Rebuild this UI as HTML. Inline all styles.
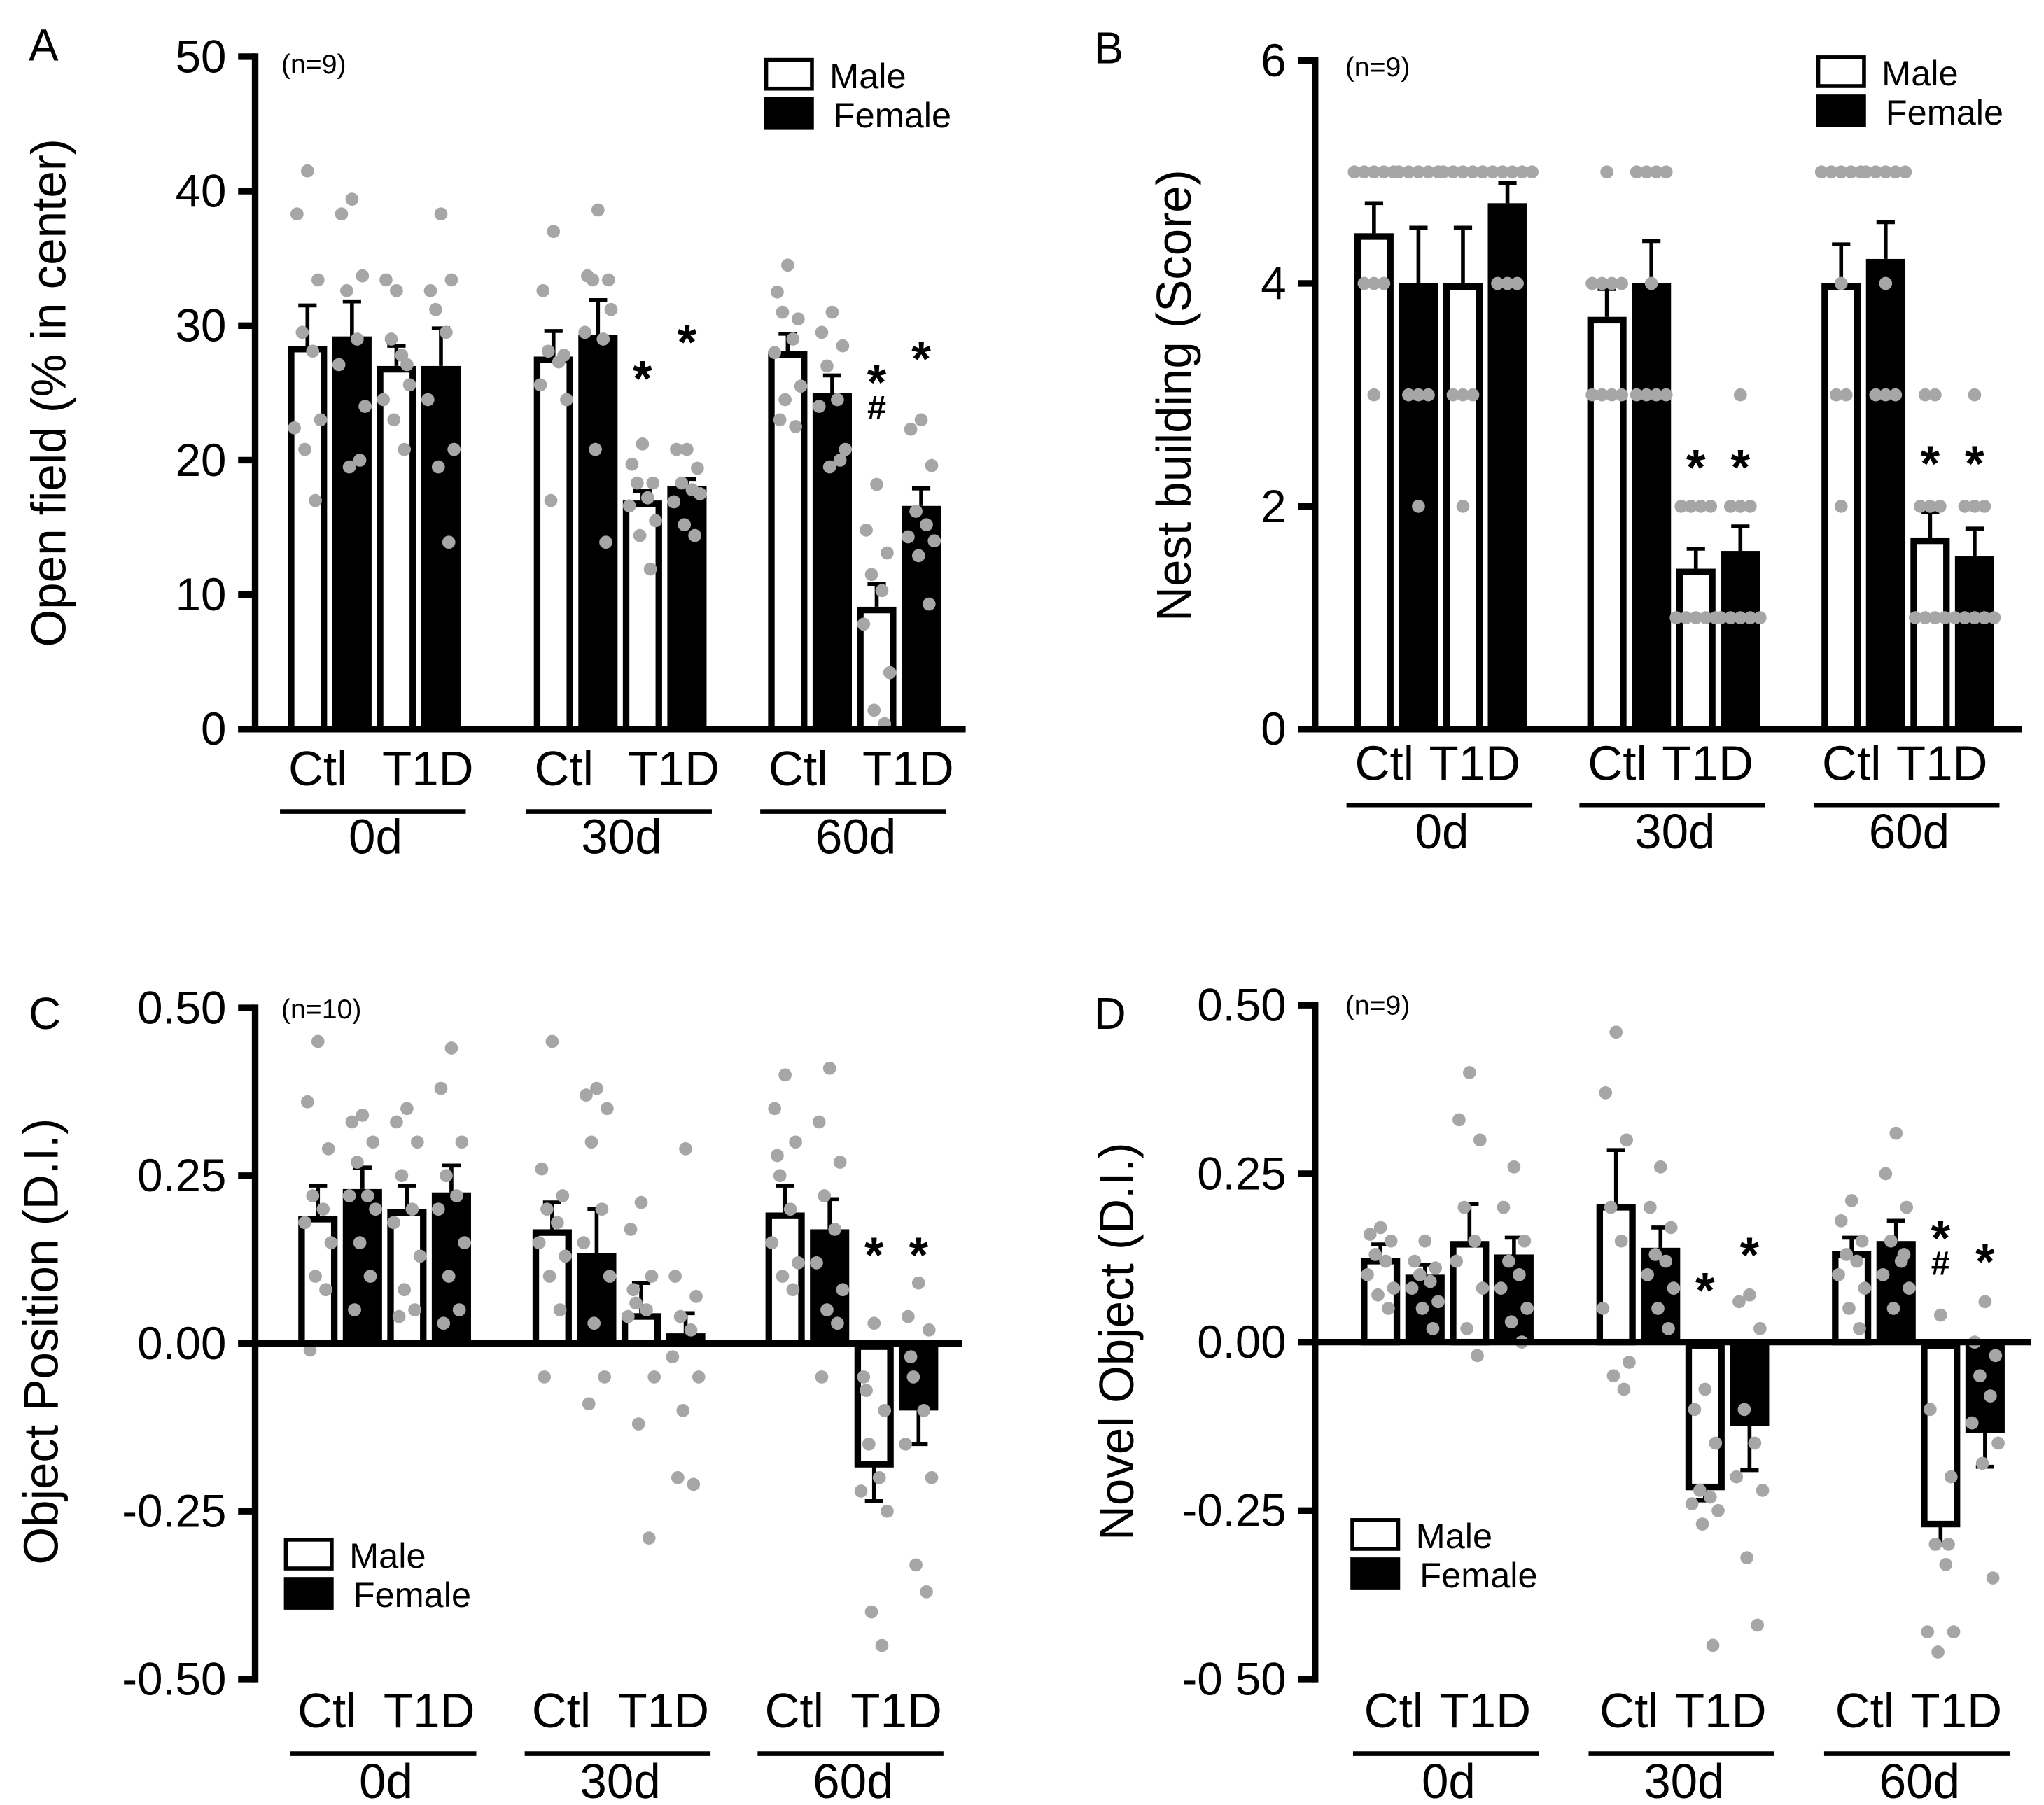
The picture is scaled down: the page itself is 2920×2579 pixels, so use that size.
<!DOCTYPE html>
<html><head><meta charset="utf-8"><style>
html,body{margin:0;padding:0;background:#fff}
svg{display:block}
text{font-family:"Liberation Sans",Arial,sans-serif;fill:#000}
</style></head><body>
<svg id="chart" xmlns="http://www.w3.org/2000/svg" width="2920" height="2579" viewBox="0 0 1562 1379"></svg>
<script>
// ---- data ----
const groupLabels = ["0d","30d","60d"];
const barLabels = ["Ctl","T1D"];
const sexLabels = ["Male","Female"];
// Panel A: Open field
const valsA = [28.5,29.2,27,27, 27.7,29.3,17,18.1, 28.1,25,9.1,16.6];
const errA  = [31.5,31.8,28.5,29.8, 29.6,31.9,17.7,18.6, 29.4,26.3,10.8,17.9];
const dotsA = [
 [41.5,38.3,33.4,29.5,28.1,22.4,23,20.8,17],
 [39.4,38.3,33.7,32.6,29,27.1,24,19.5,20],
 [32.6,33.4,27.1,29,27.8,24.5,25.6,23,20.8],
 [38.3,32.6,33.4,31.2,29.5,24.5,20.8,19.5,13.9],
 [37,32.6,27.8,28.1,27.3,25.6,24.5,17],
 [38.6,33.7,33.4,33.4,29,29.5,31.2,20.8,13.9],
 [21.2,19.7,18.3,18.3,17.2,16.6,15.5,14.4,11.9],
 [20.8,20.8,19.4,18.3,17.8,16.9,17.5,15.2,14.4],
 [34.5,32.5,30.5,31,29,28,25.5,24.5,22.5,23],
 [31,29.5,28.5,27,24.5,24,20.8,19.5,20],
 [18.2,14.8,13.1,11.5,10.3,7.8,4.2,1.4,0.4],
 [23,22.3,19.6,16.2,15.2,14.3,14,12.9,9.3]];
const ticksA = [0,10,20,30,40,50];
const tickLabelsA = ["0","10","20","30","40","50"];
// Panel B: Nest building
const valsB = [4.45,4.0,4.0,4.72, 3.7,4.0,1.44,1.6, 4.0,4.22,1.72,1.55];
const errB  = [4.72,4.5,4.5,4.9, 3.95,4.38,1.62,1.82, 4.35,4.55,1.95,1.8];
const dotsB = [
 [5,5,5,5,5,4,4,4,3],[5,5,5,5,5,3,3,3,2],[5,5,5,5,5,3,3,3,2],[5,5,5,5,5,5,4,4,4],
 [5,4,4,4,4,3,3,3,3],[5,5,5,5,4,3,3,3,3],[2,2,2,2,1,1,1,1,1],[3,2,2,2,1,1,1,1,1],
 [5,5,5,5,5,4,3,3,2],[5,5,5,5,5,4,3,3,3],[3,3,2,2,2,1,1,1,1],[3,2,2,2,1,1,1,1,1]];
const ticksB = [0,2,4,6];
const tickLabelsB = ["0","2","4","6"];
// Panel C: Object position
const valsC = [0.19,0.23,0.20,0.225, 0.17,0.135,0.045,0.015, 0.195,0.17,-0.18,-0.1];
const errC  = [0.235,0.262,0.235,0.265, 0.21,0.2,0.09,0.045, 0.235,0.215,-0.235,-0.15];
const dotsC = [
 [.45,.36,.29,.22,.2,.18,.15,.1,.08,-.01],
 [.34,.33,.3,.27,.22,.22,.2,.15,.1,.05],
 [.35,.33,.3,.25,.2,.18,.13,.08,.05,.04],
 [.44,.38,.3,.25,.22,.2,.15,.1,.05,.03],
 [.45,.26,.22,.2,.18,.15,.13,.1,.05,-.05],
 [.38,.37,.35,.3,.2,.15,.1,.03,-.05,-.09],
 [.21,.17,.1,.06,.05,.04,-.05,-.12,-.29,.08],
 [.29,.1,.07,.04,.02,-.02,-.05,-.1,-.21,-.2],
 [.4,.35,.3,.25,.2,.15,.12,.1,.08,.28],
 [.41,.33,.27,.22,.17,.12,.08,.05,.03,-.05],
 [.03,-.05,-.1,-.15,-.2,-.22,-.25,-.4,-.45,-.07],
 [.09,.04,.02,-.05,-.1,-.15,-.2,-.33,-.37,-.02]];
const ticksC = [-0.5,-0.25,0,0.25,0.5];
const tickLabelsC = ["-0.50","-0.25","0.00","0.25","0.50"];
// Panel D: Novel object
const valsD = [0.125,0.1,0.15,0.13, 0.205,0.14,-0.215,-0.125, 0.135,0.15,-0.27,-0.135];
const errD  = [0.145,0.115,0.205,0.155, 0.285,0.17,-0.235,-0.19, 0.155,0.18,-0.3,-0.185];
const dotsD = [
 [.17,.16,.15,.13,.12,.1,.08,.07,.05],
 [.15,.12,.11,.1,.09,.08,.06,.05,.02],
 [.4,.33,.3,.2,.15,.12,.08,.02,-.02],
 [.26,.2,.15,.12,.1,.08,.05,.03,0],
 [.46,.37,.3,.2,.15,.05,-.03,-.05,-.07],
 [.26,.2,.17,.13,.12,.1,.08,.05,.02],
 [-.07,-.1,-.15,-.22,-.23,-.24,-.25,-.27,-.45],
 [.07,.06,.02,-.1,-.15,-.2,-.22,-.32,-.42],
 [.21,.18,.15,.13,.12,.1,.08,.05,.02],
 [.31,.25,.2,.15,.12,.1,.08,.05,.13],
 [.04,-.1,-.2,-.3,-.33,-.43,-.43,-.46,-.3],
 [.06,0,-.02,-.05,-.08,-.12,-.15,-.18,-.35]];
const ticksD = [-0.5,-0.25,0,0.25,0.5];
const tickLabelsD = ["-0 50","-0.25","0.00","0.25","0.50"];

const NS = "http://www.w3.org/2000/svg";
const svg = document.getElementById('chart');
function mk(tag, attrs, parent){
  const e = document.createElementNS(NS, tag);
  for (const k in attrs) e.setAttribute(k, attrs[k]);
  (parent||svg).appendChild(e); return e;
}
function txt(s, x, y, size, anchor, parent){
  const t = mk('text', {x:x, y:y, 'font-size':size, 'text-anchor':anchor||'start'}, parent);
  t.textContent = s; return t;
}

function panel(cfg){
  const g = mk('g', {});
  
  
  const y = v => cfg.y0 + (v - cfg.vmin) * (cfg.y1 - cfg.y0) / (cfg.vmax - cfg.vmin);
  const base = y(cfg.base);
  const pl = txt(cfg.letter, cfg.letterX, cfg.letterY, 34, 'start', g);
  
  
  const yt = txt(cfg.title, 0, 0, 37, 'middle', g);
  yt.setAttribute('transform', `translate(${cfg.titleX},${cfg.titleY}) rotate(-90)`);
  
  
  cfg.vals.forEach((v, i) => {
    const gi = Math.floor(i/4), k = i%4;
    const x = cfg.starts[gi] + k*34;
    const top = y(Math.max(v, cfg.base)), bot = y(Math.min(v, cfg.base));
    const male = k%2===0;
    const r = mk('rect', {x:male?x+2.5:x, y:male?top+2.5:top, width:male?25:30, height:Math.max(0,(bot-top)-(male?2.5:0)),
      fill:male?'#fff':'#000', stroke:'#000', 'stroke-width':male?5:0}, g);
    
    
    const ye = y(cfg.err[i]), yv = y(v);
    const el = mk('path', {d:`M${x+15},${yv} L${x+15},${ye} M${x+8},${ye} L${x+22},${ye}`, stroke:'#000', 'stroke-width':3, fill:'none'}, g);
    
    
  });
  cfg.dots.forEach((arr, i) => {
    const gi = Math.floor(i/4), k = i%4;
    const cx = cfg.starts[gi] + k*34 + 15;
    const seen = {};
    arr.forEach((v, j) => {
      let dx;
      if (cfg.discrete){
        const n = arr.filter(a=>a===v).length;
        seen[v] = (seen[v]||0); const idx = seen[v]++;
        dx = (idx - (n-1)/2) * 7.5;
      } else {
        dx = [0,-8,8,-4,4,-10,10,-2,6,-6][j%10];
      }
      const c = mk('circle', {cx:cx+dx, cy:y(v), r:5, fill:'#a6a6a6'}, g);
      
      
    });
  });
  const ax = mk('line', {x1:cfg.axX, y1:y(cfg.vmax)-2.5, x2:cfg.axX, y2:y(cfg.vmin)+2.5, stroke:'#000', 'stroke-width':5}, g);
  
  
  const bl = mk('line', {x1:cfg.axX-13, y1:base, x2:cfg.axEnd, y2:base, stroke:'#000', 'stroke-width':5}, g);
  
  
  cfg.ticks.forEach((t, i) => {
    const tl = mk('line', {x1:cfg.axX-13, y1:y(t), x2:cfg.axX, y2:y(t), stroke:'#000', 'stroke-width':5}, g);
    
    
    const lb = txt(cfg.tickLabels[i], cfg.axX-22, y(t)+12, 35, 'end', g);
    
    
  });
  const nl = txt(cfg.n, cfg.nX, cfg.nY, 21, 'start', g);
  
  
  sexLabels.forEach((s, i) => {
    const ly = cfg.legY + i*30;
    const b = mk('rect', {x:cfg.legX+1.5, y:ly+1.5, width:35, height:22, fill:i?'#000':'#fff', stroke:'#000', 'stroke-width':3}, g);
    
    
    const lt = txt(s, cfg.legX + 50 + (i? 3:0), ly+23, 27, 'start', g);
    
    
  });
  groupLabels.forEach((gl, gi) => {
    const s = cfg.starts[gi];
    const c1 = txt(barLabels[0], s + cfg.ctlDx, cfg.catY, 37, 'middle', g);
    
    
    const c2 = txt(barLabels[1], s + cfg.t1dDx, cfg.catY, 37, 'middle', g);
    
    
    const ln = mk('line', {x1:s-6, y1:cfg.lineY, x2:s+136, y2:cfg.lineY, stroke:'#000', 'stroke-width':3.5}, g);
    
    
    const gt = txt(gl, s + 67, cfg.grpY, 37, 'middle', g);
    
    
  });
  cfg.marks.forEach(m => {
    const x = cfg.starts[m[0]] + m[1]*34 + 15;
    const t = txt(m[2], x, m[3], m[2]==='#'?26:38, 'middle', g);
    t.setAttribute('font-weight', 'bold');
    
    
  });
}

panel({id:'a', letter:'A', letterX:22, letterY:46, title:'Open field (% in center)', titleX:50, titleY:300,
  vals:valsA, err:errA, dots:dotsA, ticks:ticksA, tickLabels:tickLabelsA,
  vmin:0, vmax:50, y0:557, y1:43, base:0, axX:195, axEnd:738, starts:[220,408,587],
  n:'(n=9)', nX:215, nY:56, legX:584, legY:44, ctlDx:23, t1dDx:107, catY:600, lineY:620, grpY:652,
  marks:[[1,2,'*',302],[1,3,'*',274],[2,2,'*',305],[2,2,'#',320],[2,3,'*',287]]});
panel({id:'b', letter:'B', letterX:836, letterY:48, title:'Nest building (Score)', titleX:910, titleY:302,
  vals:valsB, err:errB, dots:dotsB, discrete:true, ticks:ticksB, tickLabels:tickLabelsB,
  vmin:0, vmax:6, y0:557, y1:46, base:0, axX:1005, axEnd:1545, starts:[1035,1213,1392],
  n:'(n=9)', nX:1028, nY:58, legX:1388, legY:42, ctlDx:23, t1dDx:92, catY:596, lineY:615, grpY:648,
  marks:[[1,2,'*',370],[1,3,'*',370],[2,2,'*',367],[2,3,'*',367]]});
panel({id:'c', letter:'C', letterX:22, letterY:786, title:'Object Position (D.I.)', titleX:44, titleY:1025,
  vals:valsC, err:errC, dots:dotsC, ticks:ticksC, tickLabels:tickLabelsC,
  vmin:-0.5, vmax:0.5, y0:1283, y1:770, base:0, axX:195, axEnd:735, starts:[228,407,585],
  n:'(n=10)', nX:215, nY:778, legX:217, legY:1175, ctlDx:22, t1dDx:100, catY:1320, lineY:1340, grpY:1374,
  marks:[[2,2,'*',972],[2,3,'*',972]]});
panel({id:'d', letter:'D', letterX:836, letterY:786, title:'Novel Object (D.I.)', titleX:866, titleY:1025,
  vals:valsD, err:errD, dots:dotsD, ticks:ticksD, tickLabels:tickLabelsD,
  vmin:-0.5, vmax:0.5, y0:1283, y1:768, base:0, axX:1005, axEnd:1552, starts:[1040,1220,1400],
  n:'(n=9)', nX:1028, nY:775, legX:1032, legY:1160, ctlDx:25, t1dDx:95, catY:1320, lineY:1340, grpY:1374,
  marks:[[1,2,'*',999],[1,3,'*',972],[2,2,'*',959],[2,2,'#',974],[2,3,'*',977]]});
</script>
</body></html>
